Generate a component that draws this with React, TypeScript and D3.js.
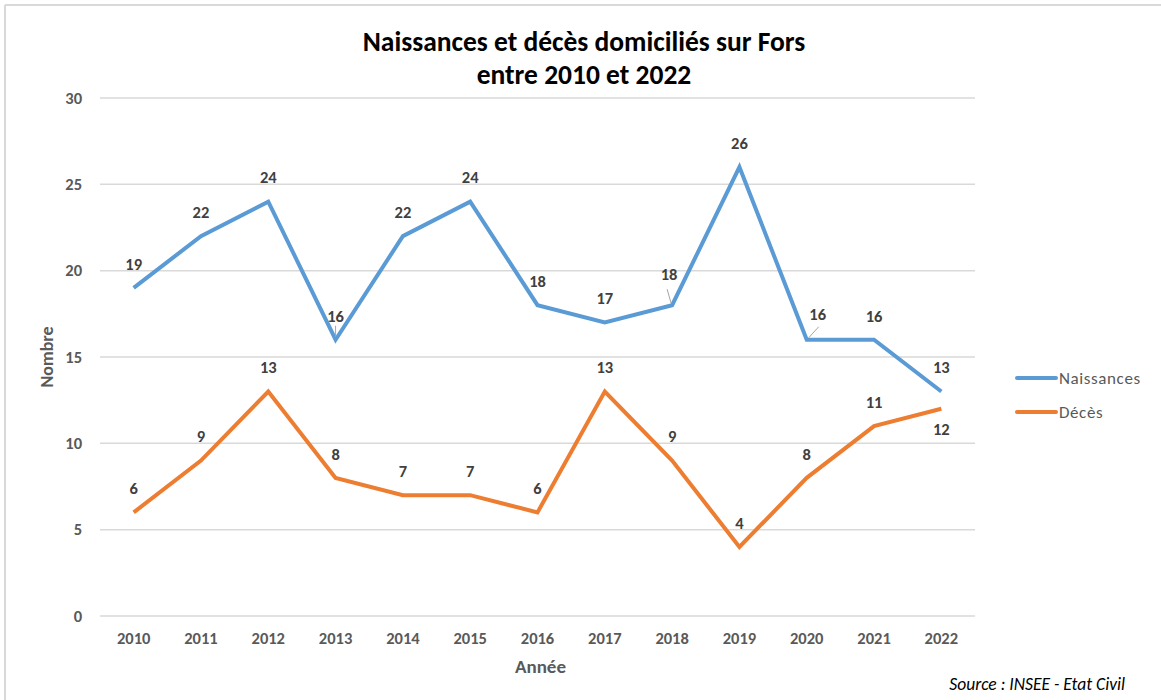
import React, { useEffect, useRef } from "react";
import * as d3 from "d3";

const years = ["2010", "2011", "2012", "2013", "2014", "2015", "2016", "2017", "2018", "2019", "2020", "2021", "2022"];
const naissances = [19, 22, 24, 16, 22, 24, 18, 17, 18, 26, 16, 16, 13];
const deces = [6, 9, 13, 8, 7, 7, 6, 13, 9, 4, 8, 11, 12];
const yTicks = [0, 5, 10, 15, 20, 25, 30];

const FONT = "Carlito, Calibri, Lato, 'Open Sans', sans-serif";

const App = () => {
    const ref = useRef<SVGSVGElement>(null);

    useEffect(() => {
        const svg = d3.select(ref.current);
        svg.selectAll("*").remove();

        const margin = { left: 100, right: 186, top: 98, bottom: 84 };
        const W = 1161, H = 700;
        const w = W - margin.left - margin.right;
        const h = H - margin.top - margin.bottom;

        // frame (top + left only)
        svg.append("line").attr("x1", 5).attr("x2", W).attr("y1", 5).attr("y2", 5)
            .attr("stroke", "#d9d9d9").attr("stroke-width", 2);
        svg.append("line").attr("x1", 5).attr("x2", 5).attr("y1", 5).attr("y2", H)
            .attr("stroke", "#d9d9d9").attr("stroke-width", 2);

        const x = d3.scaleBand().domain(years).range([0, w]);
        const y = d3.scaleLinear().domain([0, 30]).range([h, 0]);
        const cx = (i: number) => margin.left + (x(years[i]) as number) + x.bandwidth() / 2;
        const cy = (v: number) => margin.top + y(v);

        // title
        const title = svg.append("text").attr("text-anchor", "middle")
            .attr("font-family", FONT).attr("font-weight", "bold").attr("font-size", 27.5).attr("fill", "#000");
        title.append("tspan").attr("x", 584).attr("y", 51).text("Naissances et décès domiciliés sur Fors");
        title.append("tspan").attr("x", 584).attr("y", 84).text("entre 2010 et 2022");

        // grid
        svg.append("g").selectAll("line").data(yTicks).enter().append("line")
            .attr("x1", margin.left).attr("x2", margin.left + w)
            .attr("y1", d => cy(d)).attr("y2", d => cy(d))
            .attr("stroke", "#d9d9d9").attr("stroke-width", 1.5);

        // y ticks
        svg.append("g").selectAll("text").data(yTicks).enter().append("text")
            .attr("x", 82).attr("y", d => cy(d)).attr("dy", "0.35em")
            .attr("text-anchor", "end").attr("font-family", FONT).attr("font-weight", "bold")
            .attr("font-size", 16.5).attr("fill", "#595959").text(d => d);

        // x ticks
        svg.append("g").selectAll("text").data(years).enter().append("text")
            .attr("x", (d, i) => cx(i)).attr("y", margin.top + h + 28)
            .attr("text-anchor", "middle").attr("font-family", FONT).attr("font-weight", "bold")
            .attr("font-size", 16.5).attr("fill", "#595959").text(d => d);

        // axis titles
        svg.append("text").attr("x", margin.left + w / 2 + 3).attr("y", 673)
            .attr("text-anchor", "middle").attr("font-family", FONT).attr("font-weight", "bold")
            .attr("font-size", 19).attr("fill", "#595959").text("Année");
        svg.append("text").attr("transform", `translate(53, ${margin.top + h / 2}) rotate(-90)`)
            .attr("text-anchor", "middle").attr("font-family", FONT).attr("font-weight", "bold")
            .attr("font-size", 18).attr("fill", "#595959").text("Nombre");

        // source
        svg.append("text").attr("x", 1125).attr("y", 690)
            .attr("text-anchor", "end").attr("font-family", FONT).attr("font-style", "italic")
            .attr("font-size", 17.5).attr("fill", "#000").text("Source : INSEE - Etat Civil");

        const line = d3.line<number>().x((d, i) => cx(i)).y(d => cy(d));

        const series = [
            { name: "Naissances", values: naissances, color: "#5B9BD5" },
            { name: "Décès", values: deces, color: "#ED7D31" },
        ];

        series.forEach(s => {
            svg.append("path").datum(s.values).attr("d", line)
                .attr("fill", "none").attr("stroke", s.color).attr("stroke-width", 4)
                .attr("stroke-linejoin", "miter");
        });

        // data labels, with a few nudged like the original
        const nudge: Record<string, [number, number]> = {
            "Naissances-8": [-3, -31],
            "Naissances-10": [11, -26],
            "Décès-12": [0, 20],
        };

        series.forEach(s => {
            svg.append("g").selectAll("text").data(s.values).enter().append("text")
                .attr("x", (d, i) => cx(i) + (nudge[`${s.name}-${i}`]?.[0] ?? 0))
                .attr("y", (d, i) => cy(d) + (nudge[`${s.name}-${i}`]?.[1] ?? -24))
                .attr("dy", "0.35em")
                .attr("text-anchor", "middle").attr("font-family", FONT).attr("font-weight", "bold")
                .attr("font-size", 16.5).attr("fill", "#404040").text(d => d);
        });

        // leader lines
        const lead = (i: number, v: number, x1: number, y1: number, x2: number, y2: number) => {
            svg.append("line")
                .attr("x1", cx(i) + x1).attr("y1", cy(v) + y1)
                .attr("x2", cx(i) + x2).attr("y2", cy(v) + y2)
                .attr("stroke", "#a6a6a6").attr("stroke-width", 1);
        };
        lead(3, naissances[3], 0, -14, 0, -3);
        lead(8, naissances[8], -5, -16, -1, -2);
        lead(10, naissances[10], 12, -13, 2, -2);

        // legend
        series.forEach((s, k) => {
            const ly = 378 + k * 34;
            svg.append("line").attr("x1", 1017).attr("x2", 1056).attr("y1", ly).attr("y2", ly)
                .attr("stroke", s.color).attr("stroke-width", 4).attr("stroke-linecap", "round");
            svg.append("text").attr("x", 1059).attr("y", ly).attr("dy", "0.35em")
                .attr("font-family", FONT).attr("font-size", 17).attr("fill", "#595959")
                .attr("letter-spacing", 0.6).text(s.name);
        });
    }, []);

    return (
        <svg ref={ref} width={1161} height={700}
            style={{ position: "absolute", left: 0, top: 0, background: "#fff" }}></svg>
    );
};

export default App;
